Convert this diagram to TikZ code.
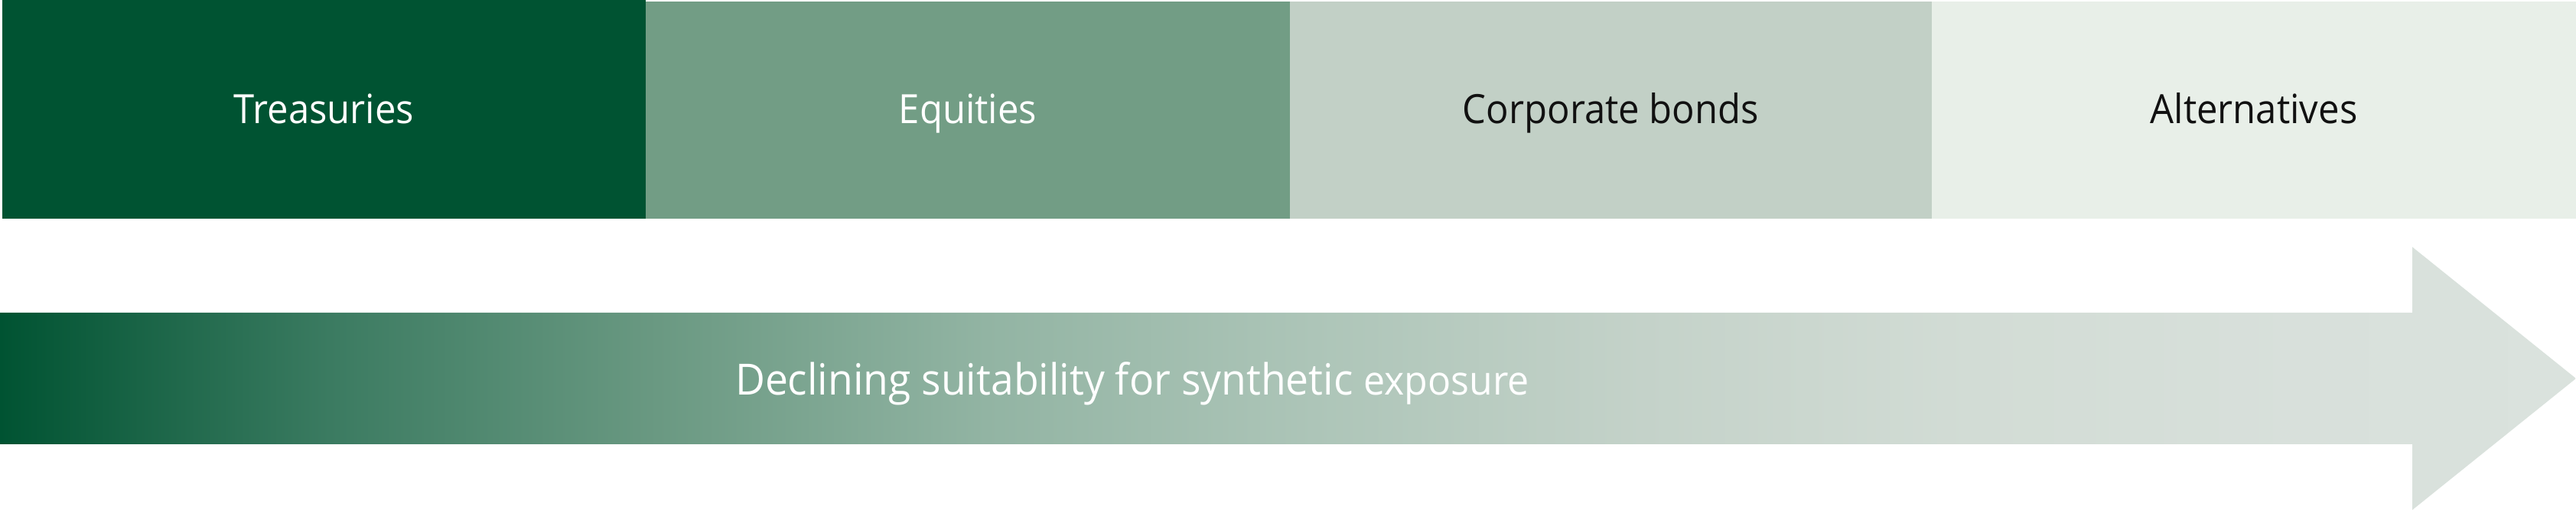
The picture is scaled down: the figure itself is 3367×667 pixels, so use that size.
\documentclass[tikz,border=0pt]{standalone}
\usepackage{fontspec}
\setmainfont{Open Sans}
\newfontfamily\lblfont[FakeStretch=0.93]{Open Sans}
\newfontfamily\arrfont[FakeStretch=0.95]{Open Sans}
\definecolor{treas}{HTML}{005332}
\definecolor{equit}{HTML}{729D85}
\definecolor{corpb}{HTML}{C2D0C6}
\definecolor{altern}{HTML}{E8EFE8}
\definecolor{labdark}{HTML}{111111}
\definecolor{g0}{HTML}{005332}
\definecolor{g1}{HTML}{3B7B61}
\definecolor{g2}{HTML}{6A9982}
\definecolor{g3}{HTML}{92B4A3}
\definecolor{g4}{HTML}{ADC5B8}
\definecolor{g5}{HTML}{C4D2C9}
\definecolor{g6}{HTML}{D2DCD5}
\definecolor{g7}{HTML}{D8E0DB}
\definecolor{g8}{HTML}{DAE2DD}
\pgfdeclarehorizontalshading{suitshade}{100bp}{color(0bp)=(g0); color(25bp)=(g0); color(31.39bp)=(g1); color(37.76bp)=(g2); color(44.13bp)=(g3); color(50.51bp)=(g4); color(56.88bp)=(g5); color(63.27bp)=(g6); color(69.64bp)=(g7); color(75bp)=(g8); color(100bp)=(g8)}
\tikzset{
  catlabel/.style={font=\lblfont\fontsize{15pt}{18pt}\selectfont, anchor=base, inner sep=0pt},
  arrlabel/.style={font=\arrfont\fontsize{16pt}{19pt}\selectfont, text=white, anchor=base, inner sep=0pt},
}
\begin{document}
\begin{tikzpicture}[x=0.1mm,y=0.1mm]
\useasboundingbox (0,0) rectangle (3367,667);
% category boxes
\fill[treas] (3,381) rectangle (844,667);
\fill[equit] (844,381) rectangle (1686,665);
\fill[corpb] (1686,381) rectangle (2525,665);
\fill[altern] (2525,381) rectangle (3367,665);
\node[catlabel, text=white] (tre) at (423.5,505) {Treasuries};
\node[catlabel, text=white] (equ) at (1265,505) {Equities};
\node[catlabel, text=labdark] (cor) at (2105.5,505) {Corporate bonds};
\node[catlabel, text=labdark] (alt) at (2946,505) {Alternatives};
% gradient arrow
\shade[shading=suitshade] (0,86) -- (3153,86) -- (3153,0) -- (3367,172) -- (3153,344) -- (3153,258) -- (0,258) -- cycle;
\node[arrlabel] (decl) at (1480,150) {Declining suitability for synthetic {\fontsize{15pt}{18pt}\selectfont exposure}};
\end{tikzpicture}
\end{document}
